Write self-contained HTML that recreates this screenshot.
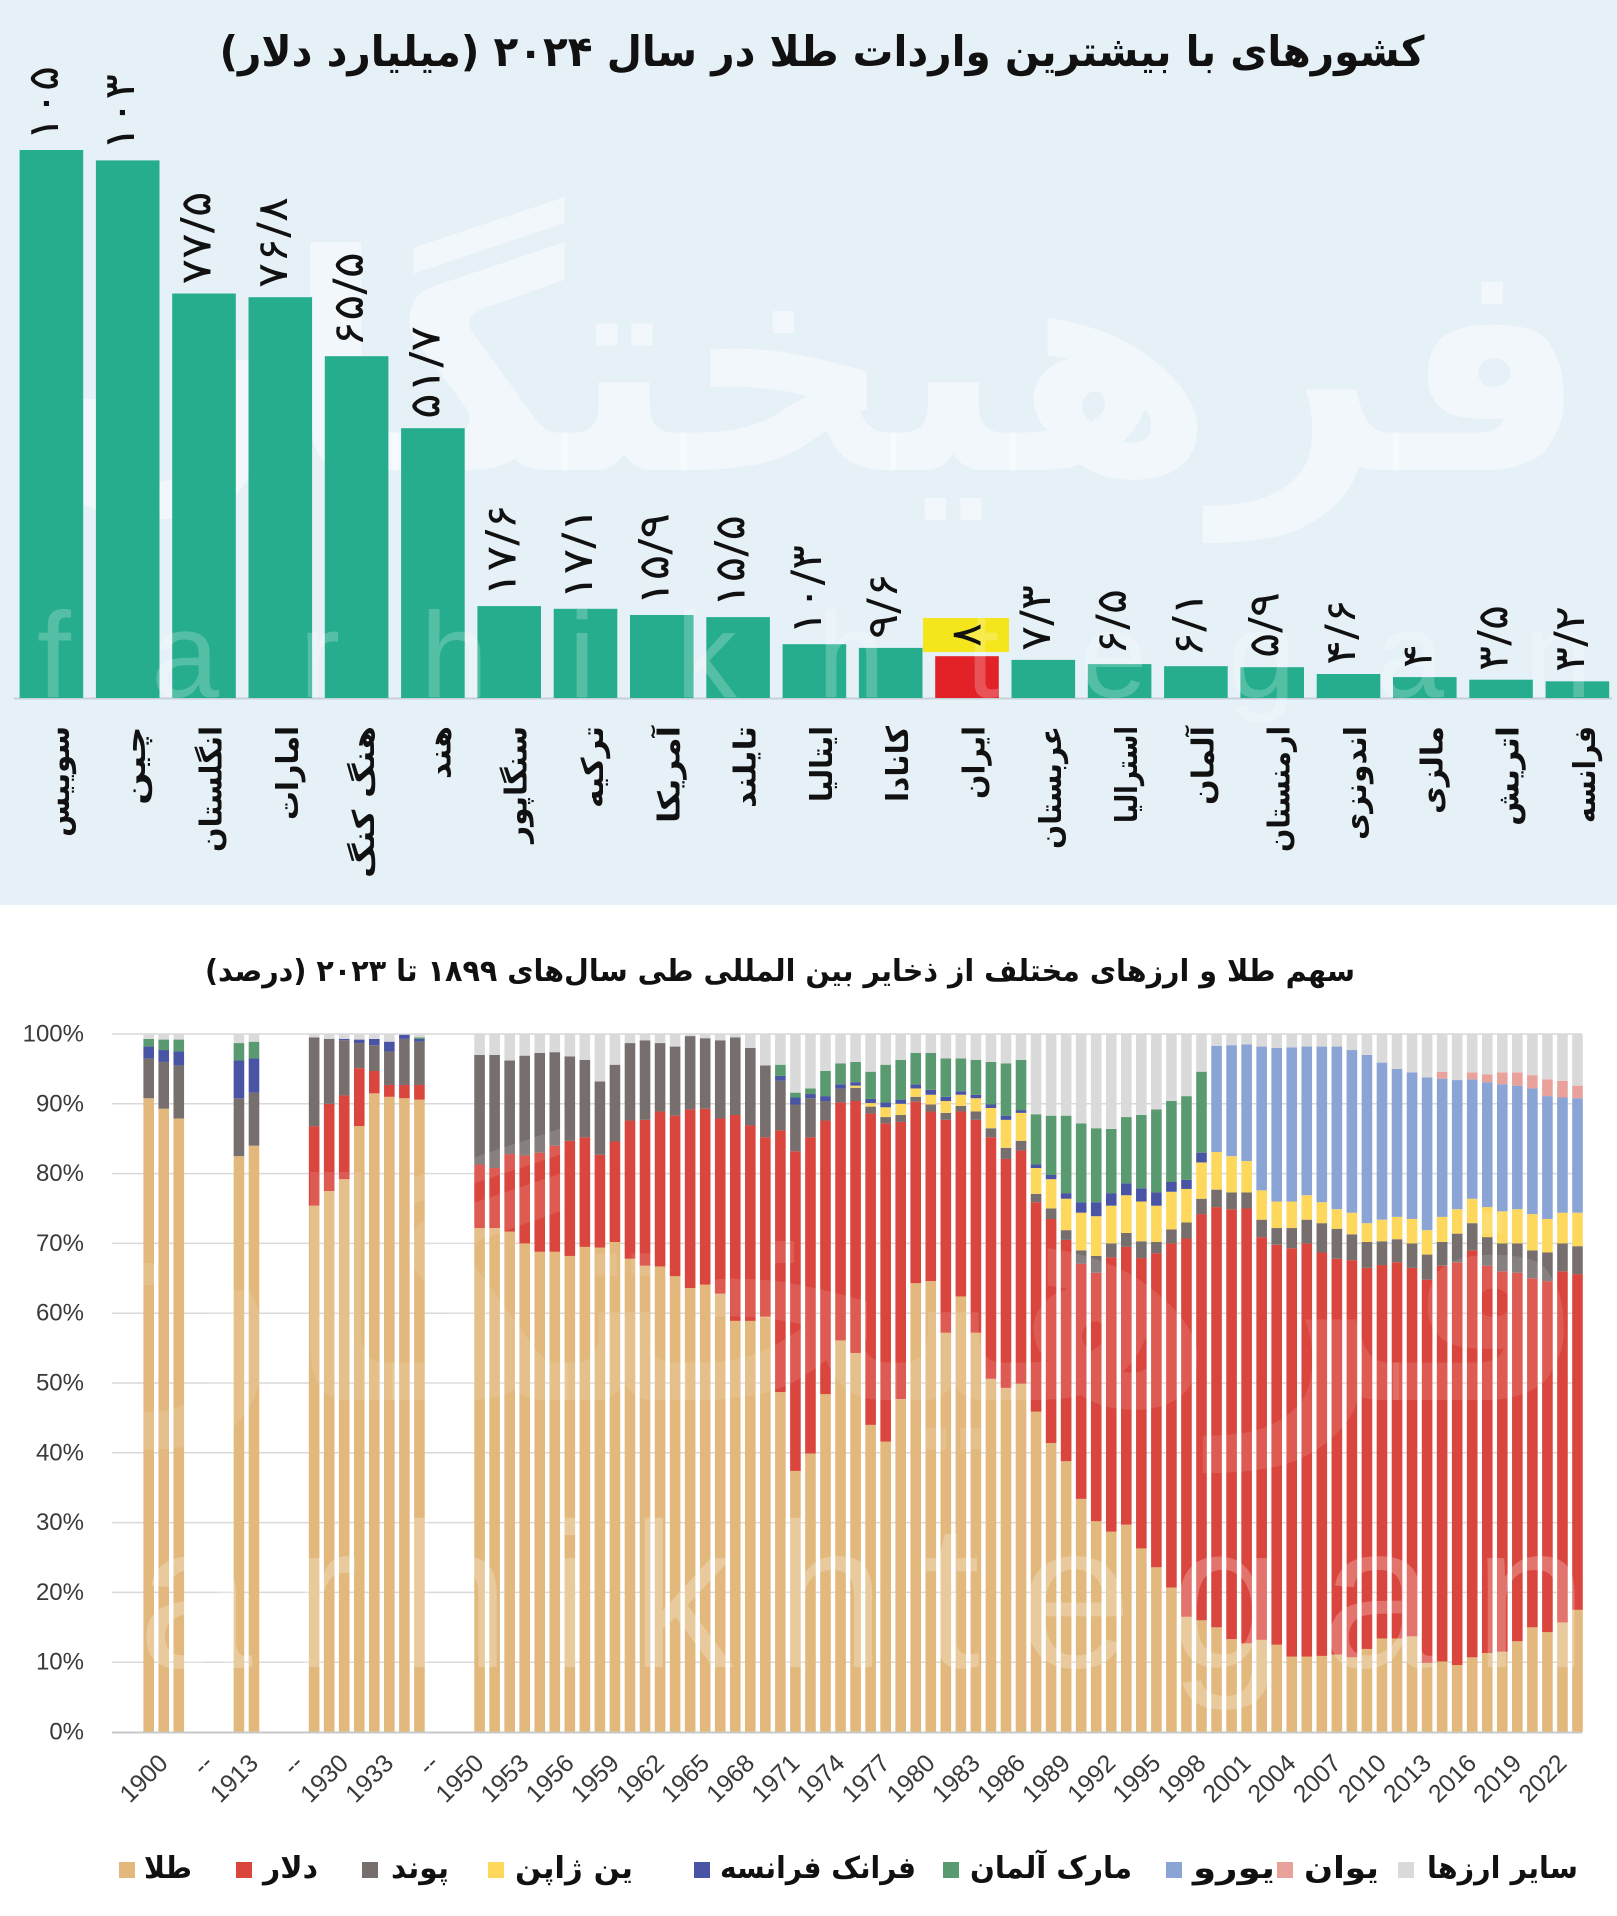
<!DOCTYPE html>
<html><head><meta charset="utf-8">
<style>
html,body{margin:0;padding:0;background:#fff;width:1617px;height:1916px;overflow:hidden}
svg{display:block}
.fa{font-family:"DejaVu Sans",sans-serif}
.la{font-family:"Liberation Sans",sans-serif}
</style></head><body>
<svg id="s" xmlns="http://www.w3.org/2000/svg" width="1617" height="1916" viewBox="0 0 1617 1916">
<rect x="0" y="0" width="1617" height="1916" fill="#ffffff"/>
<rect x="0" y="0" width="1617" height="905" fill="#e6f1f7"/>
<text class="fa" x="812" y="470" text-anchor="middle" direction="rtl" font-size="300" font-weight="bold" fill="#ffffff" fill-opacity="0.45" textLength="1550" lengthAdjust="spacingAndGlyphs">فرهیختگان</text>
<line x1="14" y1="698.5" x2="1612" y2="698.5" stroke="#c5d0d6" stroke-width="2"/>
<g id="topbars"></g>
<rect x="923" y="618" width="86" height="34" fill="#f4e51c"/>
<text class="la" x="37" y="697" font-size="122" fill="#ffffff" fill-opacity="0.22" textLength="1555" lengthAdjust="spacing">farhikhtegan</text>

<text class="fa" x="822" y="66" text-anchor="middle" direction="rtl" font-size="42" font-weight="bold" fill="#111" textLength="1205" lengthAdjust="spacingAndGlyphs">کشورهای با بیشترین واردات طلا در سال ۲۰۲۴ (میلیارد دلار)</text>

<g class="fa" font-size="42" fill="#111" dominant-baseline="central">
<text transform="translate(43.4,141) rotate(-90)" textLength="75" lengthAdjust="spacingAndGlyphs">۱۰۵</text>
<text transform="translate(119.7,151) rotate(-90)" textLength="77" lengthAdjust="spacingAndGlyphs">۱۰۳</text>
<text transform="translate(196,284.5) rotate(-90)" textLength="93" lengthAdjust="spacingAndGlyphs">۷۷/۵</text>
<text transform="translate(272.3,288) rotate(-90)" textLength="91" lengthAdjust="spacingAndGlyphs">۷۶/۸</text>
<text transform="translate(348.6,347) rotate(-90)" textLength="95" lengthAdjust="spacingAndGlyphs">۶۵/۵</text>
<text transform="translate(424.9,419) rotate(-90)" textLength="93" lengthAdjust="spacingAndGlyphs">۵۱/۷</text>
<text transform="translate(501.2,597) rotate(-90)" textLength="93" lengthAdjust="spacingAndGlyphs">۱۷/۶</text>
<text transform="translate(577.5,600) rotate(-90)" textLength="93" lengthAdjust="spacingAndGlyphs">۱۷/۱</text>
<text transform="translate(653.8,606) rotate(-90)" textLength="93" lengthAdjust="spacingAndGlyphs">۱۵/۹</text>
<text transform="translate(730.1,608) rotate(-90)" textLength="93" lengthAdjust="spacingAndGlyphs">۱۵/۵</text>
<text transform="translate(806.4,635) rotate(-90)" textLength="90" lengthAdjust="spacingAndGlyphs">۱۰/۳</text>
<text transform="translate(882.7,639) rotate(-90)" textLength="66" lengthAdjust="spacingAndGlyphs">۹/۶</text>
<text transform="translate(966,635) rotate(-90)" text-anchor="middle" textLength="24" lengthAdjust="spacingAndGlyphs">۸</text>
<text transform="translate(1035.3,651) rotate(-90)" textLength="66" lengthAdjust="spacingAndGlyphs">۷/۳</text>
<text transform="translate(1111.6,655) rotate(-90)" textLength="66" lengthAdjust="spacingAndGlyphs">۶/۵</text>
<text transform="translate(1187.9,657) rotate(-90)" textLength="66" lengthAdjust="spacingAndGlyphs">۶/۱</text>
<text transform="translate(1264.2,658) rotate(-90)" textLength="66" lengthAdjust="spacingAndGlyphs">۵/۹</text>
<text transform="translate(1340.5,665) rotate(-90)" textLength="66" lengthAdjust="spacingAndGlyphs">۴/۶</text>
<text transform="translate(1416.8,668) rotate(-90)" textLength="24" lengthAdjust="spacingAndGlyphs">۴</text>
<text transform="translate(1493.1,671) rotate(-90)" textLength="66" lengthAdjust="spacingAndGlyphs">۳/۵</text>
<text transform="translate(1569.4,672) rotate(-90)" textLength="66" lengthAdjust="spacingAndGlyphs">۳/۲</text>
</g>

<g class="fa" font-size="30" font-weight="bold" fill="#111" dominant-baseline="central" text-anchor="end">
<text transform="translate(59.4,726) rotate(-90)" textLength="111" lengthAdjust="spacingAndGlyphs">سوییس</text>
<text transform="translate(135.7,726) rotate(-90)" textLength="79" lengthAdjust="spacingAndGlyphs">چین</text>
<text transform="translate(212,726) rotate(-90)" textLength="126" lengthAdjust="spacingAndGlyphs">انگلستان</text>
<text transform="translate(288.3,726) rotate(-90)" textLength="94" lengthAdjust="spacingAndGlyphs">امارات</text>
<text transform="translate(364.6,726) rotate(-90)" textLength="152" lengthAdjust="spacingAndGlyphs">هنگ کنگ</text>
<text transform="translate(440.9,726) rotate(-90)" textLength="53" lengthAdjust="spacingAndGlyphs">هند</text>
<text transform="translate(517.2,726) rotate(-90)" textLength="117" lengthAdjust="spacingAndGlyphs">سنگاپور</text>
<text transform="translate(593.5,726) rotate(-90)" textLength="82" lengthAdjust="spacingAndGlyphs">ترکیه</text>
<text transform="translate(669.8,726) rotate(-90)" textLength="97" lengthAdjust="spacingAndGlyphs">آمریکا</text>
<text transform="translate(746.1,726) rotate(-90)" textLength="82" lengthAdjust="spacingAndGlyphs">تایلند</text>
<text transform="translate(822.4,726) rotate(-90)" textLength="76" lengthAdjust="spacingAndGlyphs">ایتالیا</text>
<text transform="translate(898.7,726) rotate(-90)" textLength="76" lengthAdjust="spacingAndGlyphs">کانادا</text>
<text transform="translate(975,726) rotate(-90)" textLength="73" lengthAdjust="spacingAndGlyphs">ایران</text>
<text transform="translate(1051.3,726) rotate(-90)" textLength="123" lengthAdjust="spacingAndGlyphs">عربستان</text>
<text transform="translate(1127.6,726) rotate(-90)" textLength="97" lengthAdjust="spacingAndGlyphs">استرالیا</text>
<text transform="translate(1203.9,726) rotate(-90)" textLength="79" lengthAdjust="spacingAndGlyphs">آلمان</text>
<text transform="translate(1280.2,726) rotate(-90)" textLength="126" lengthAdjust="spacingAndGlyphs">ارمنستان</text>
<text transform="translate(1356.5,726) rotate(-90)" textLength="114" lengthAdjust="spacingAndGlyphs">اندونزی</text>
<text transform="translate(1432.8,726) rotate(-90)" textLength="88" lengthAdjust="spacingAndGlyphs">مالزی</text>
<text transform="translate(1509.1,726) rotate(-90)" textLength="100" lengthAdjust="spacingAndGlyphs">اتریش</text>
<text transform="translate(1585.4,726) rotate(-90)" textLength="97" lengthAdjust="spacingAndGlyphs">فرانسه</text>
</g>

<text class="fa" x="780" y="981" text-anchor="middle" direction="rtl" font-size="30" font-weight="bold" fill="#111" textLength="1150" lengthAdjust="spacingAndGlyphs">سهم طلا و ارزهای مختلف از ذخایر بین المللی طی سال‌های ۱۸۹۹ تا ۲۰۲۳ (درصد)</text>

<g stroke="#d9d9d9" stroke-width="1.5">
<line x1="112" x2="1582" y1="1034" y2="1034"/>
<line x1="112" x2="1582" y1="1103.8" y2="1103.8"/>
<line x1="112" x2="1582" y1="1173.6" y2="1173.6"/>
<line x1="112" x2="1582" y1="1243.4" y2="1243.4"/>
<line x1="112" x2="1582" y1="1313.2" y2="1313.2"/>
<line x1="112" x2="1582" y1="1383" y2="1383"/>
<line x1="112" x2="1582" y1="1452.8" y2="1452.8"/>
<line x1="112" x2="1582" y1="1522.6" y2="1522.6"/>
<line x1="112" x2="1582" y1="1592.4" y2="1592.4"/>
<line x1="112" x2="1582" y1="1662.2" y2="1662.2"/>
</g>
<g id="botbars"></g>
<line x1="112" x2="1582" y1="1732.5" y2="1732.5" stroke="#c8c8c8" stroke-width="2"/>

<text class="fa" x="812" y="1400" text-anchor="middle" direction="rtl" font-size="300" font-weight="bold" fill="#ffffff" fill-opacity="0.12" textLength="1550" lengthAdjust="spacingAndGlyphs">فرهیختگان</text>
<text class="la" x="43" y="1667" font-size="206" fill="#ffffff" fill-opacity="0.25" textLength="1545" lengthAdjust="spacing">farhikhtegan</text>

<g class="la" font-size="24" fill="#3a3a3a" text-anchor="end" dominant-baseline="central">
<text x="84" y="1732">0%</text>
<text x="84" y="1662.2">10%</text>
<text x="84" y="1592.4">20%</text>
<text x="84" y="1522.6">30%</text>
<text x="84" y="1452.8">40%</text>
<text x="84" y="1383">50%</text>
<text x="84" y="1313.2">60%</text>
<text x="84" y="1243.4">70%</text>
<text x="84" y="1173.6">80%</text>
<text x="84" y="1103.8">90%</text>
<text x="84" y="1034">100%</text>
</g>

<g class="la" font-size="25" fill="#3a3a3a" text-anchor="end" dominant-baseline="central">
<text transform="translate(163.7,1759) rotate(-45)">1900</text>
<text transform="translate(208.9,1759) rotate(-45)">--</text>
<text transform="translate(254,1759) rotate(-45)">1913</text>
<text transform="translate(299.1,1759) rotate(-45)">--</text>
<text transform="translate(344.2,1759) rotate(-45)">1930</text>
<text transform="translate(389.3,1759) rotate(-45)">1933</text>
<text transform="translate(434.5,1759) rotate(-45)">--</text>
<text transform="translate(479.6,1759) rotate(-45)">1950</text>
<text transform="translate(524.7,1759) rotate(-45)">1953</text>
<text transform="translate(569.8,1759) rotate(-45)">1956</text>
<text transform="translate(614.9,1759) rotate(-45)">1959</text>
<text transform="translate(660.1,1759) rotate(-45)">1962</text>
<text transform="translate(705.2,1759) rotate(-45)">1965</text>
<text transform="translate(750.3,1759) rotate(-45)">1968</text>
<text transform="translate(795.4,1759) rotate(-45)">1971</text>
<text transform="translate(840.5,1759) rotate(-45)">1974</text>
<text transform="translate(885.7,1759) rotate(-45)">1977</text>
<text transform="translate(930.8,1759) rotate(-45)">1980</text>
<text transform="translate(975.9,1759) rotate(-45)">1983</text>
<text transform="translate(1021,1759) rotate(-45)">1986</text>
<text transform="translate(1066.1,1759) rotate(-45)">1989</text>
<text transform="translate(1111.3,1759) rotate(-45)">1992</text>
<text transform="translate(1156.4,1759) rotate(-45)">1995</text>
<text transform="translate(1201.5,1759) rotate(-45)">1998</text>
<text transform="translate(1246.6,1759) rotate(-45)">2001</text>
<text transform="translate(1291.7,1759) rotate(-45)">2004</text>
<text transform="translate(1336.9,1759) rotate(-45)">2007</text>
<text transform="translate(1382,1759) rotate(-45)">2010</text>
<text transform="translate(1427.1,1759) rotate(-45)">2013</text>
<text transform="translate(1472.2,1759) rotate(-45)">2016</text>
<text transform="translate(1517.3,1759) rotate(-45)">2019</text>
<text transform="translate(1562.5,1759) rotate(-45)">2022</text>
</g>

<g>
<rect x="119" y="1862" width="16" height="16" fill="#e2b87c"/>
<rect x="236" y="1862" width="16" height="16" fill="#da453d"/>
<rect x="362" y="1862" width="16" height="16" fill="#766f6e"/>
<rect x="488" y="1862" width="16" height="16" fill="#fdd85d"/>
<rect x="694" y="1862" width="16" height="16" fill="#4a54a4"/>
<rect x="943" y="1862" width="16" height="16" fill="#5a9a70"/>
<rect x="1166" y="1862" width="16" height="16" fill="#8aa4d6"/>
<rect x="1277" y="1862" width="16" height="16" fill="#e9a19b"/>
<rect x="1398" y="1862" width="16" height="16" fill="#dadada"/>
</g>
<g class="fa" font-size="30" font-weight="bold" fill="#111" text-anchor="middle" direction="rtl">
<text x="168" y="1878" textLength="48" lengthAdjust="spacingAndGlyphs">طلا</text>
<text x="290.5" y="1878" textLength="55" lengthAdjust="spacingAndGlyphs">دلار</text>
<text x="420" y="1878" textLength="58" lengthAdjust="spacingAndGlyphs">پوند</text>
<text x="574" y="1878" textLength="118" lengthAdjust="spacingAndGlyphs">ین ژاپن</text>
<text x="818" y="1878" textLength="196" lengthAdjust="spacingAndGlyphs">فرانک فرانسه</text>
<text x="1051" y="1878" textLength="162" lengthAdjust="spacingAndGlyphs">مارک آلمان</text>
<text x="1234" y="1878" textLength="82" lengthAdjust="spacingAndGlyphs">یورو</text>
<text x="1341.5" y="1878" textLength="75" lengthAdjust="spacingAndGlyphs">یوان</text>
<text x="1502.5" y="1878" textLength="151" lengthAdjust="spacingAndGlyphs">سایر ارزها</text>
</g>
</svg>
<script>
(function(){
var NS="http://www.w3.org/2000/svg";
function R(g,x,y,w,h,c){var r=document.createElementNS(NS,"rect");r.setAttribute("x",x);r.setAttribute("y",y);r.setAttribute("width",w);r.setAttribute("height",h);r.setAttribute("fill",c);g.appendChild(r);}
var tv=[105,103,77.5,76.8,65.5,51.7,17.6,17.1,15.9,15.5,10.3,9.6,8,7.3,6.5,6.1,5.9,4.6,4,3.5,3.2];
var tg=document.getElementById("topbars");
for(var i=0;i<tv.length;i++){
  var x=19.6+i*76.3, h=tv[i]*5.219;
  R(tg,x.toFixed(1),(698-h).toFixed(1),63.6,h.toFixed(1),i==12?"#e32227":"#26ad8e");
}
var P={g:"#e2b87c",d:"#da453d",p:"#766f6e",y:"#fdd85d",f:"#4a54a4",m:"#5a9a70",e:"#8aa4d6",u:"#e9a19b",o:"#dadada"};
var D=[
[0,"gpfm",90.8,96.5,98.2,99.3],
[1,"gpfm",89.3,96.0,97.7,99.2],
[2,"gpfm",87.9,95.5,97.5,99.2],
[6,"gpfm",82.5,90.8,96.2,98.7],
[7,"gpfm",84.0,91.6,96.5,98.9],
[11,"gdp",75.4,86.8,99.5],
[12,"gdp",77.5,90.0,99.3],
[13,"gdpf",79.2,91.2,99.1,99.3],
[14,"gdpf",86.8,95.1,98.7,99.2],
[15,"gdpf",91.5,94.7,98.4,99.3],
[16,"gdpf",91.0,92.7,97.5,98.9],
[17,"gdpf",90.8,92.7,99.3,99.9],
[18,"gdpfm",90.6,92.7,98.9,99.3,99.5],
[22,"gdp",72.2,81.3,97.0],
[23,"gdp",72.2,80.8,97.0],
[24,"gdp",71.7,82.8,96.2],
[25,"gdp",70.0,82.6,96.9],
[26,"gdp",68.8,83.0,97.3],
[27,"gdp",68.8,84.0,97.4],
[28,"gdp",68.2,84.7,96.8],
[29,"gdp",69.5,85.2,96.3],
[30,"gdp",69.4,82.7,93.2],
[31,"gdp",70.2,84.6,95.6],
[32,"gdp",67.8,87.6,98.7],
[33,"gdp",66.8,87.7,99.1],
[34,"gdp",66.7,88.9,98.7],
[35,"gdp",65.3,88.3,98.2],
[36,"gdp",63.6,89.2,99.7],
[37,"gdp",64.1,89.3,99.4],
[38,"gdp",62.8,87.9,99.1],
[39,"gdp",58.9,88.4,99.5],
[40,"gdp",58.9,86.9,98.0],
[41,"gdp",59.5,85.2,95.5],
[42,"gdpyfm",48.7,86.2,93.3,93.3,94.0,95.6],
[43,"gdpyfm",37.4,83.2,89.9,89.9,90.9,91.6],
[44,"gdpyfm",39.9,85.2,90.8,90.8,91.4,92.2],
[45,"gdpyfm",48.4,87.6,90.4,90.4,91.1,94.7],
[46,"gdpyfm",56.1,90.2,92.2,92.2,92.8,95.8],
[47,"gdpyfm",54.3,90.4,92.3,92.6,93.1,96.0],
[48,"gdpyfm",44.0,88.6,89.6,90.1,90.7,94.6],
[49,"gdpyfm",41.6,87.2,88.1,89.5,90.2,95.6],
[50,"gdpyfm",47.7,87.4,88.4,90.0,90.6,96.3],
[51,"gdpyfm",64.3,90.3,91.0,92.2,92.8,97.3],
[52,"gdpyfm",64.6,88.9,89.9,91.3,92.0,97.3],
[53,"gdpyfm",57.2,87.7,88.7,90.4,91.0,96.5],
[54,"gdpyfm",62.4,88.9,89.7,91.3,91.8,96.5],
[55,"gdpyfm",57.2,87.7,88.9,90.8,91.3,96.3],
[56,"gdpyfm",50.6,85.2,86.5,89.4,89.9,96.0],
[57,"gdpyfm",49.3,82.1,83.7,87.7,88.3,95.8],
[58,"gdpyfm",49.9,83.3,84.7,88.7,89.1,96.3],
[59,"gdpyfm",45.9,75.9,77.1,80.8,81.3,88.5],
[60,"gdpyfm",41.4,73.5,75.0,79.2,79.8,88.3],
[61,"gdpyfm",38.8,70.5,71.9,76.4,77.2,88.3],
[62,"gdpyfm",33.4,67.1,69.0,74.4,75.9,87.2],
[63,"gdpyfm",30.2,65.8,68.2,73.9,75.9,86.5],
[64,"gdpyfm",28.7,68.0,70.0,75.4,77.2,86.4],
[65,"gdpyfm",29.7,69.5,71.5,76.9,78.6,88.1],
[66,"gdpyfm",26.3,67.9,70.3,76.0,77.9,88.4],
[67,"gdpyfm",23.6,68.6,70.2,75.4,77.3,89.2],
[68,"gdpyfm",20.7,70.0,72.0,77.4,78.8,90.4],
[69,"gdpyfm",16.5,70.7,73.0,77.8,79.1,91.1],
[70,"gdpyfm",16.0,74.2,76.4,81.6,83.0,94.6],
[71,"gdpye",15.0,75.2,77.7,83.1,98.3],
[72,"gdpye",13.3,74.9,77.3,82.5,98.4],
[73,"gdpye",12.7,75.0,77.3,81.8,98.5],
[74,"gdpye",13.2,70.9,73.4,77.6,98.2],
[75,"gdpye",12.5,69.8,72.2,76.0,98.0],
[76,"gdpye",10.8,69.3,72.2,76.0,98.1],
[77,"gdpye",10.8,70.0,73.4,76.9,98.2],
[78,"gdpye",10.9,68.7,72.9,75.9,98.2],
[79,"gdpye",11.1,67.8,72.1,74.9,98.2],
[80,"gdpye",10.7,67.6,71.3,74.4,97.7],
[81,"gdpye",11.9,66.5,70.2,72.9,97.0],
[82,"gdpye",13.4,66.9,70.3,73.4,95.9],
[83,"gdpye",13.4,67.3,70.6,73.8,95.0],
[84,"gdpye",13.7,66.5,70.0,73.5,94.5],
[85,"gdpye",9.9,64.8,68.4,71.9,93.8],
[86,"gdpyeu",10.1,66.8,70.2,73.8,93.6,94.6],
[87,"gdpye",9.6,67.3,71.4,74.9,93.4],
[88,"gdpyeu",10.7,69.0,72.9,76.4,93.5,94.5],
[89,"gdpyeu",11.3,66.8,70.9,75.2,93.1,94.2],
[90,"gdpyeu",11.5,66.0,70.0,74.6,92.8,94.5],
[91,"gdpyeu",13.0,65.8,70.0,74.9,92.6,94.5],
[92,"gdpyeu",15.0,65.0,69.0,74.2,92.2,94.1],
[93,"gdpyeu",14.3,64.6,68.7,73.5,91.1,93.5],
[94,"gdpyeu",15.7,66.0,70.0,74.4,90.9,93.3],
[95,"gdpyeu",17.5,65.6,69.6,74.4,90.8,92.6]
];
var bg=document.getElementById("botbars");
function Y(v){return 1732-v*6.98;}
for(var j=0;j<D.length;j++){
  var d=D[j], cx=148.7+d[0]*15.04, x=(cx-5.3).toFixed(2), prev=0, k=d[1];
  for(var n=0;n<k.length;n++){
    var v=d[2+n];
    if(v>prev){R(bg,x,Y(v).toFixed(2),10.6,((v-prev)*6.98).toFixed(2),P[k[n]]);prev=v;}
  }
  if(prev<100){R(bg,x,Y(100).toFixed(2),10.6,((100-prev)*6.98).toFixed(2),P.o);}
}
})();
</script>
</body></html>
